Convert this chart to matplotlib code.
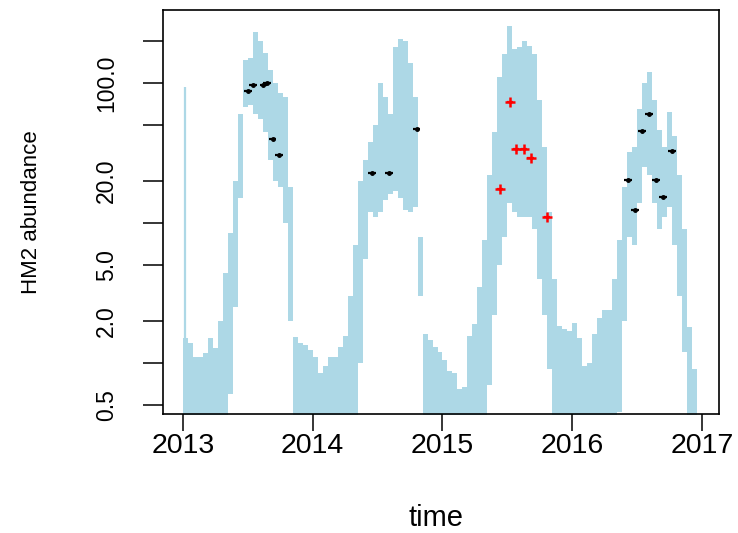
import numpy as np
import matplotlib
matplotlib.use("Agg")
import matplotlib.pyplot as plt

plt.rcParams['font.family'] = ['Liberation Sans', 'DejaVu Sans']

# ---- data ----
start_year = 2013.0
col_width = 1 / 26  # biweekly columns

upper_2013 = [1.5, 1.4, 1.1, 1.1, 1.18, 1.5, 1.28, 2.0, 4.4, 8.5, 20, 60, 146, 150, 230, 200, 163, 124, 100, 85, 80, 18, 1.53, 1.39, 1.35, 1.24]
lower_2013 = [0.3] * 9 + [0.6, 2.5, 15, 67, 70, 60, 55, 45, 28, 20, 18, 10, 2.0, 0.3, 0.3, 0.3, 0.3]
upper_2014 = [1.1, 0.85, 0.95, 1.1, 1.1, 1.3, 1.55, 3.0, 7.0, 20, 28, 38, 50, 100, 80, 60, 180, 205, 200, 140, 80, 8, 1.6, 1.45, 1.3, 1.2]
lower_2014 = [0.3] * 9 + [1.0, 5.5, 12, 11, 12, 14.6, 16, 17, 15, 12.4, 12, 13, 3, 0.3, 0.3, 0.3, 0.3]
upper_2015 = [1.05, 0.88, 0.85, 0.65, 0.67, 1.55, 1.9, 3.5, 7.5, 22, 45, 110, 160, 255, 175, 180, 200, 185, 160, 75, 35, 12, 4.0, 1.85, 1.75, 1.7]
lower_2015 = [0.3] * 9 + [0.7, 2.2, 5, 8, 14, 12, 11, 11, 11, 9, 4, 2.2, 0.9, 0.3, 0.3, 0.3, 0.3]
upper_2016 = [1.93, 1.5, 0.95, 1.0, 1.6, 2.1, 2.4, 2.4, 4.0, 7.5, 18, 32, 35, 65, 100, 120, 75, 46, 35, 62, 42, 22, 9, 1.8, 0.9]
lower_2016 = [0.3] * 9 + [0.45, 2.0, 8, 7, 14, 25, 22, 14, 9, 11, 13, 7, 3.0, 1.2, 0.3, 0.3]

spike_time = 2013.019
spike_top = 94

black_t = [2013.50, 2013.54, 2013.62, 2013.65, 2013.69, 2013.74,
           2014.457, 2014.59, 2014.80,
           2016.43, 2016.485, 2016.54, 2016.59, 2016.645, 2016.70, 2016.77]
black_v = [88, 96, 96, 100, 40, 30.5,
           22.7, 22.7, 47,
           20.3, 12.4, 45.5, 60, 20.3, 15.3, 32.6]
red_t = [2015.443, 2015.52, 2015.566, 2015.63, 2015.68, 2015.805]
red_v = [17.5, 73, 33.8, 33.8, 29, 11.0]

y_ticks = [0.5, 1, 2, 5, 10, 20, 50, 100, 200]
y_labels = ['0.5', '', '2.0', '5.0', '', '20.0', '', '100.0', '']
x_ticks = [2013, 2014, 2015, 2016, 2017]

# ---- figure ----
W, H = 738, 533
fig = plt.figure(figsize=(W / 100, H / 100), dpi=100)
ax = fig.add_axes([163 / W, (H - 414) / H, (719 - 163) / W, (414 - 10) / H])

upper = np.array(upper_2013 + upper_2014 + upper_2015 + upper_2016, dtype=float)
lower = np.array(lower_2013 + lower_2014 + lower_2015 + lower_2016, dtype=float)
times = start_year + col_width * np.arange(len(upper))

ax.set_yscale('log')
t_edges = np.append(times, times[-1] + col_width)
ax.fill_between(t_edges, np.append(lower, lower[-1]), np.append(upper, upper[-1]),
                step='post', color='lightblue', linewidth=0)
ax.vlines([spike_time], [0.3], [spike_top], color='lightblue', linewidth=1.6)

ax.errorbar(black_t, black_v, xerr=0.03, fmt='o', color='black', markersize=2.5,
            elinewidth=1.6, capsize=0, zorder=5)
ax.errorbar(red_t, red_v, xerr=0.025, fmt='+', color='red', markersize=7,
            markeredgewidth=1.8, elinewidth=1.6, capsize=0, zorder=5)

ax.set_xlim(2012.846, 2017.131)
ax.set_ylim(0.432, 332)

ax.set_yticks(y_ticks)
ax.set_yticklabels(y_labels, rotation=90, va='center')
ax.yaxis.set_minor_locator(matplotlib.ticker.NullLocator())
ax.set_xticks(x_ticks)
ax.set_xticklabels([str(t) for t in x_ticks])

ax.tick_params(axis='y', length=14.4, width=1.1, pad=18, labelsize=16.5, colors='black')
ax.tick_params(axis='x', length=12.2, width=1.1, pad=1.5, labelsize=20.5, colors='black')
for s in ax.spines.values():
    s.set_linewidth(1.2)
    s.set_color('black')

fig.text(436 / W, (H - 518) / H, 'time', ha='center', va='center', fontsize=21)
fig.text(32 / W, (H - 212) / H, 'HM2 abundance', ha='center', va='center',
         rotation=90, fontsize=16)

fig.savefig('out.png', dpi=100)
